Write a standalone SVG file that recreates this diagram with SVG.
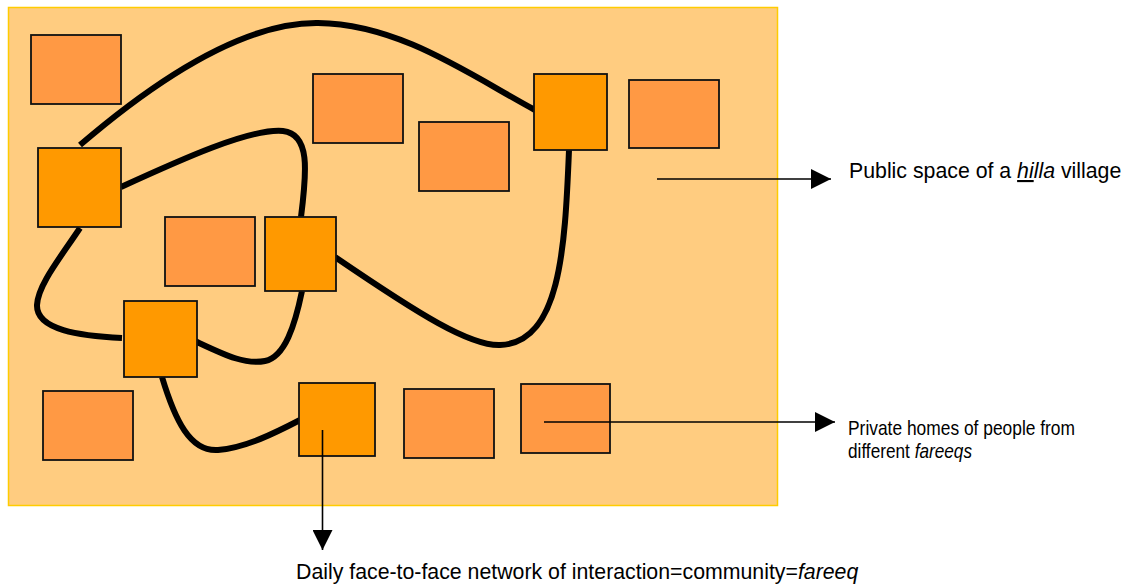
<svg xmlns="http://www.w3.org/2000/svg" width="1125" height="586" viewBox="0 0 1125 586">
  <style>
    .bg { fill: #FFCC80; stroke: #FFCC00; stroke-width: 1.5; }
    .home { fill: #FF9944; stroke: #111; stroke-width: 1.8; }
    .hub { fill: #FF9900; stroke: #111; stroke-width: 1.8; }
    .tie { fill: none; stroke: #000; stroke-width: 6; stroke-linecap: butt; }
    .pointer { fill: none; stroke: #000; stroke-width: 1.6; }
    .label { font-family: "Liberation Sans", Arial, sans-serif; font-size: 21.3px; fill: #000; }
    .narrow { font-family: "Liberation Sans Narrow", "Arial Narrow", "Liberation Sans", sans-serif; font-size: 21px; fill: #000; }
    .it { font-style: italic; }
  </style>
  <defs>
    <marker id="head" viewBox="0 0 20 20" refX="20" refY="10" markerWidth="20" markerHeight="20" markerUnits="userSpaceOnUse" orient="auto">
      <path d="M0,0 L20,10 L0,20 Z" fill="#000"/>
    </marker>
  </defs>

  <!-- village public space -->
  <rect id="village" class="bg" x="8.5" y="7.5" width="769" height="498"/>

  <!-- private homes -->
  <g id="home-1"><rect class="home" x="31" y="35" width="90" height="69"/></g>
  <g id="home-2"><rect class="home" x="313" y="74" width="90" height="69"/></g>
  <g id="home-3"><rect class="home" x="419" y="122" width="90" height="69"/></g>
  <g id="home-4"><rect class="home" x="629" y="80" width="90" height="68"/></g>
  <g id="home-5"><rect class="home" x="165" y="217" width="90" height="69"/></g>
  <g id="home-6"><rect class="home" x="43" y="391" width="90" height="69"/></g>
  <g id="home-7"><rect class="home" x="404" y="389" width="90" height="69"/></g>
  <g id="home-8"><rect class="home" x="521" y="384" width="89" height="69"/></g>

  <!-- daily interaction ties -->
  <g id="ties">
    <path class="tie" d="M80,145 C150,85 240,22 318,23 C400,24 470,75 535,110"/>
    <path class="tie" d="M121,187 C180,160 250,128 283,131 C310,134 307,170 301,217"/>
    <path class="tie" d="M80,228 C60,258 38,285 37,305 C36,330 80,336 122,338"/>
    <path class="tie" d="M195,341 C225,355 245,365 265,361 C285,357 295,325 302,291"/>
    <path class="tie" d="M335,257 C420,315 470,346 500,345 C560,343 565,250 569,150"/>
    <path class="tie" d="M162,377 C175,420 190,452 218,450 C245,448 275,433 300,420"/>
  </g>

  <!-- fareeq members -->
  <g id="hub-a"><rect class="hub" x="38" y="148" width="83" height="79"/></g>
  <g id="hub-b"><rect class="hub" x="534" y="74" width="73" height="76"/></g>
  <g id="hub-c"><rect class="hub" x="265" y="217" width="71" height="74"/></g>
  <g id="hub-d"><rect class="hub" x="124" y="301" width="73" height="76"/></g>
  <g id="hub-e"><rect class="hub" x="299" y="383" width="76" height="73"/></g>

  <!-- legend pointers -->
  <g id="pointers">
    <path class="pointer" d="M657,179 H831" marker-end="url(#head)"/>
    <path class="pointer" d="M544,422 H835" marker-end="url(#head)"/>
    <path class="pointer" d="M322.5,430 V550" marker-end="url(#head)"/>
  </g>

  <g id="labels">
    <text class="label" x="849" y="178">Public space of a <tspan class="it" text-decoration="underline">hi</tspan><tspan class="it">lla</tspan> village</text>
    <text class="narrow" x="848" y="435" textLength="227" lengthAdjust="spacingAndGlyphs">Private homes of people from</text>
    <text class="narrow" x="848" y="458" textLength="124" lengthAdjust="spacingAndGlyphs">different <tspan class="it">fareeqs</tspan></text>
    <text class="label" x="296" y="579">Daily face-to-face network of interaction=community=<tspan class="it">fareeq</tspan></text>
  </g>
</svg>
